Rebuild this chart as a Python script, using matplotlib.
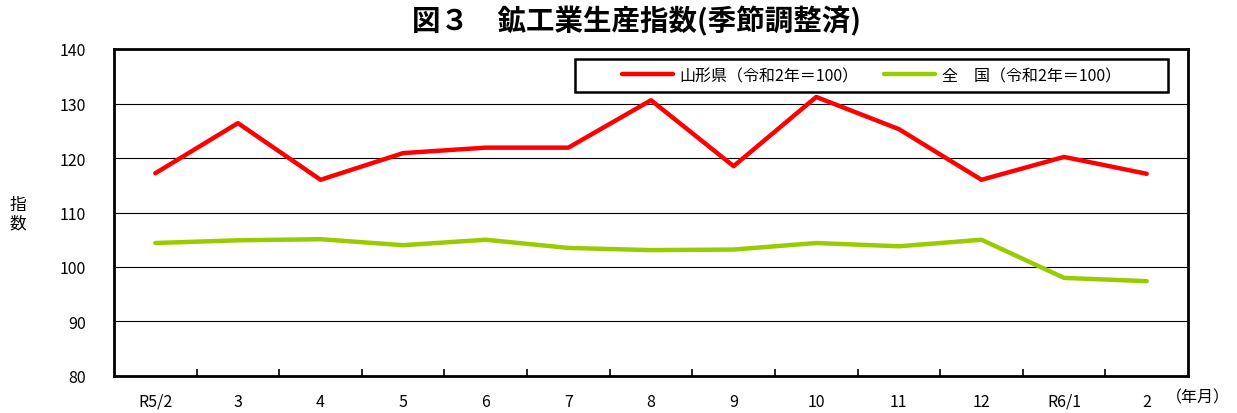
import matplotlib
matplotlib.use('Agg')
import matplotlib.pyplot as plt
from matplotlib.patches import Rectangle

plt.rcParams['font.family'] = ['Noto Sans CJK JP', 'DejaVu Sans']

# Data
months = ['R5/2', '3', '4', '5', '6', '7', '8', '9', '10', '11', '12', 'R6/1', '2']
yamagata = [117.2, 126.4, 116.0, 120.9, 121.9, 121.9, 130.6, 118.5, 131.2, 125.3, 116.0, 120.2, 117.1]
zenkoku = [104.4, 104.9, 105.1, 104.0, 105.0, 103.5, 103.1, 103.2, 104.4, 103.8, 105.0, 98.0, 97.4]
yticks = [80, 90, 100, 110, 120, 130, 140]

W, H = 1237, 414
fig = plt.figure(figsize=(W / 100, H / 100), dpi=100)
L, R, T, B = 114, 1188, 50, 377
ax = fig.add_axes([L / W, 1 - B / H, (R - L) / W, (B - T) / H])

x = list(range(len(months)))
ax.plot(x, yamagata, color='#FF0000', linewidth=3.2, label='山形県（令和2年＝100）', solid_capstyle='round')
ax.plot(x, zenkoku, color='#99CC00', linewidth=3.2, label='全　国（令和2年＝100）', solid_capstyle='round')

ax.set_xlim(-0.5, len(months) - 0.5)
ax.set_ylim(80, 140)
ax.set_yticks(yticks)
ax.set_yticklabels([str(v) for v in yticks], fontsize=11.5)
ax.tick_params(axis='y', length=0, pad=20)

# category labels centred, ticks between categories
ax.set_xticks(x)
ax.set_xticklabels(months, fontsize=11.5)
ax.tick_params(axis='x', which='major', length=0, pad=12)
ax.set_xticks([i + 0.5 for i in x[:-1]], minor=True)
ax.tick_params(axis='x', which='minor', direction='in', length=5, width=1.2, color='black')

ax.grid(axis='y', color='black', linewidth=0.8)
ax.set_axisbelow(True)
for sp in ax.spines.values():
    sp.set_linewidth(2)
    sp.set_color('black')

# legend box drawn by hand, entries centred inside
bx0, bx1, by0, by1 = 575, 1168, 60, 93
box = Rectangle(((bx0 - L) / (R - L), 1 - (by1 - T) / (B - T)), (bx1 - bx0) / (R - L), (by1 - by0) / (B - T),
                transform=ax.transAxes, facecolor='white', edgecolor='black', linewidth=1.8, zorder=4)
ax.add_patch(box)
leg = ax.legend(loc='center', bbox_to_anchor=(((bx0 + bx1) / 2 - L) / (R - L), 1 - ((by0 + by1) / 2 - T) / (B - T)),
                ncol=2, fontsize=11.5, frameon=False, handlelength=3.2, handletextpad=0.4,
                columnspacing=1.6, borderpad=0)
leg.set_zorder(5)

fig.text(637 / W, 1 - 21 / H, '図３　鉱工業生産指数(季節調整済)', fontsize=20.5, fontweight='bold',
         ha='center', va='center')
fig.text(18 / W, 1 - 215 / H, '指\n数', fontsize=12, ha='center', va='center', linespacing=1.1)
fig.text(1198 / W, 1 - 398 / H, '（年月）', fontsize=11.5, ha='center', va='center')

fig.savefig('out.png', dpi=100)
